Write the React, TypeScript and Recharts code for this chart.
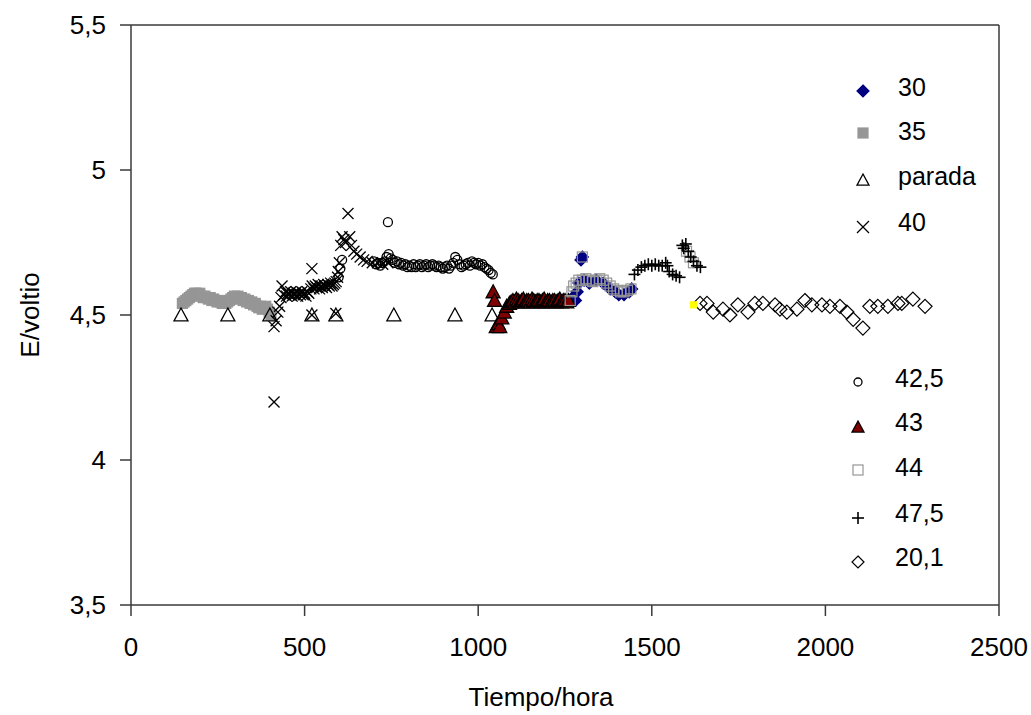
import React from "react";
import { ScatterChart, Scatter, XAxis, YAxis, ReferenceLine } from "recharts";

type P = [number, number];

// Tiempo/hora vs E/voltio, one list per series
const s30: P[] = [
  [1272, 4.56], [1280, 4.55], [1285, 4.58], [1290, 4.61], [1296, 4.69], [1300, 4.7],
  [1305, 4.62], [1320, 4.61], [1340, 4.62], [1360, 4.61], [1380, 4.59], [1395, 4.58],
  [1405, 4.57], [1420, 4.57], [1435, 4.58], [1442, 4.59],
];
const s35: P[] = [
  [148, 4.54], [153, 4.545], [158, 4.55], [163, 4.555], [168, 4.56], [173, 4.565], [178, 4.57],
  [183, 4.575], [188, 4.575], [193, 4.57], [198, 4.575], [203, 4.565], [208, 4.56], [213, 4.565],
  [218, 4.56], [223, 4.555], [228, 4.56], [233, 4.55], [238, 4.555], [243, 4.55], [248, 4.545],
  [253, 4.55], [258, 4.545], [263, 4.54], [268, 4.545], [273, 4.54], [278, 4.545], [283, 4.55],
  [288, 4.555], [293, 4.56], [298, 4.565], [303, 4.56], [308, 4.565], [313, 4.555], [318, 4.56],
  [323, 4.55], [328, 4.555], [333, 4.545], [338, 4.55], [343, 4.54], [348, 4.545], [353, 4.535],
  [358, 4.54], [363, 4.53], [368, 4.525], [373, 4.53], [378, 4.52], [383, 4.525], [388, 4.53],
  [393, 4.52], [398, 4.51], [403, 4.5],
];
const sParada: P[] = [
  [144, 4.5], [279, 4.5], [400, 4.5], [521, 4.5], [590, 4.5], [757, 4.5], [933, 4.5], [1040, 4.5],
];
const s40: P[] = [
  [412, 4.2], [412, 4.46], [418, 4.48], [423, 4.51], [428, 4.53], [432, 4.56], [435, 4.6],
  [440, 4.57], [445, 4.58], [448, 4.565], [452, 4.575], [456, 4.57], [460, 4.58], [464, 4.565],
  [468, 4.575], [472, 4.57], [476, 4.58], [480, 4.565], [484, 4.575], [488, 4.57], [492, 4.58],
  [496, 4.57], [500, 4.575], [504, 4.565], [508, 4.58], [512, 4.575], [518, 4.59], [521, 4.66],
  [521, 4.5], [522, 4.6], [527, 4.59], [531, 4.6], [535, 4.595], [539, 4.605], [543, 4.59],
  [547, 4.6], [551, 4.595], [555, 4.605], [559, 4.6], [563, 4.595], [567, 4.605], [571, 4.6],
  [575, 4.61], [579, 4.6], [583, 4.605], [587, 4.61], [590, 4.505], [591, 4.615], [595, 4.63],
  [597, 4.65], [600, 4.68], [604, 4.74], [608, 4.77], [613, 4.76], [618, 4.75], [625, 4.85],
  [630, 4.77], [635, 4.74], [642, 4.72], [650, 4.71], [660, 4.7], [670, 4.69], [680, 4.685],
  [695, 4.68], [710, 4.68], [725, 4.675], [740, 4.68],
];
const s42_5: P[] = [
  [598, 4.63], [603, 4.66], [608, 4.69], [740, 4.82],
  [700, 4.685], [706, 4.675], [712, 4.68], [718, 4.67], [724, 4.68], [730, 4.685], [736, 4.7],
  [742, 4.71], [748, 4.695], [754, 4.69], [760, 4.68], [766, 4.685], [772, 4.675], [778, 4.68],
  [784, 4.67], [790, 4.675], [796, 4.665], [802, 4.67], [808, 4.665], [814, 4.675], [820, 4.665],
  [826, 4.67], [832, 4.675], [838, 4.665], [844, 4.67], [850, 4.675], [856, 4.665], [862, 4.67],
  [868, 4.675], [874, 4.67], [880, 4.665], [886, 4.67], [892, 4.665], [898, 4.66], [904, 4.665],
  [910, 4.67], [916, 4.66], [922, 4.67], [928, 4.68], [934, 4.7], [940, 4.69], [946, 4.675],
  [952, 4.665], [958, 4.67], [964, 4.675], [970, 4.68], [976, 4.67], [982, 4.685], [988, 4.68],
  [994, 4.675], [1000, 4.68], [1006, 4.67], [1012, 4.675], [1018, 4.665], [1024, 4.66],
  [1030, 4.655], [1036, 4.645], [1042, 4.64],
];
const s43: P[] = [
  [1043, 4.58], [1047, 4.55], [1052, 4.46], [1058, 4.47], [1062, 4.46], [1068, 4.49],
  [1075, 4.51], [1082, 4.53], [1090, 4.54], [1095, 4.545], [1100, 4.55], [1105, 4.545],
  [1110, 4.555], [1115, 4.55], [1120, 4.545], [1125, 4.55], [1130, 4.555], [1135, 4.545],
  [1140, 4.55], [1145, 4.55], [1150, 4.545], [1155, 4.555], [1160, 4.55], [1165, 4.545],
  [1170, 4.55], [1175, 4.55], [1180, 4.545], [1185, 4.55], [1190, 4.555], [1195, 4.545],
  [1200, 4.55], [1205, 4.55], [1210, 4.545], [1215, 4.55], [1220, 4.55], [1225, 4.545],
  [1230, 4.55], [1235, 4.555], [1240, 4.545], [1245, 4.55], [1250, 4.55], [1255, 4.545],
  [1260, 4.55],
];
const s44: P[] = [
  [1265, 4.55], [1270, 4.58], [1275, 4.6], [1282, 4.61], [1290, 4.62], [1300, 4.62],
  [1310, 4.625], [1320, 4.62], [1330, 4.615], [1340, 4.62], [1350, 4.625], [1360, 4.62],
  [1370, 4.61], [1380, 4.6], [1390, 4.59], [1400, 4.585], [1410, 4.58], [1420, 4.58],
  [1430, 4.585], [1440, 4.59], [1300, 4.7], [1600, 4.72], [1610, 4.7], [1620, 4.68],
];
const s47_5: P[] = [
  [1450, 4.64], [1460, 4.655], [1470, 4.665], [1480, 4.67], [1490, 4.675], [1500, 4.67],
  [1510, 4.675], [1520, 4.67], [1530, 4.67], [1540, 4.68], [1545, 4.67], [1550, 4.65],
  [1560, 4.64], [1570, 4.635], [1580, 4.63], [1588, 4.74], [1592, 4.73], [1598, 4.745],
  [1605, 4.72], [1612, 4.7], [1620, 4.685], [1630, 4.67], [1640, 4.665],
];
const s20_1: P[] = [
  [1639, 4.54], [1659, 4.54], [1677, 4.51], [1705, 4.52], [1725, 4.5], [1748, 4.535],
  [1777, 4.51], [1797, 4.54], [1820, 4.54], [1855, 4.535], [1869, 4.52], [1889, 4.51],
  [1918, 4.52], [1941, 4.55], [1961, 4.535], [1990, 4.535], [2013, 4.53], [2042, 4.53],
  [2062, 4.51], [2080, 4.485], [2108, 4.455], [2128, 4.53], [2151, 4.53], [2180, 4.53],
  [2209, 4.54], [2220, 4.54], [2252, 4.555], [2287, 4.53],
];
const sYellow: P[] = [[1620, 4.535]];

const xTicks = [0, 500, 1000, 1500, 2000, 2500];
const yTicks = [3.5, 4, 4.5, 5, 5.5];

type Kind = "diamond" | "square" | "triangle" | "x" | "circle" | "plus";

function Marker({ kind, cx, cy, r, fill, stroke }: { kind: Kind; cx: number; cy: number; r: number; fill: string; stroke: string }) {
  if (cx == null || cy == null) return null;
  switch (kind) {
    case "diamond":
      return <polygon points={`${cx},${cy - r} ${cx + r},${cy} ${cx},${cy + r} ${cx - r},${cy}`} fill={fill} stroke={stroke} strokeWidth={1.2} />;
    case "square":
      return <rect x={cx - r} y={cy - r} width={2 * r} height={2 * r} fill={fill} stroke={stroke} strokeWidth={1.2} />;
    case "triangle":
      return <polygon points={`${cx},${cy - r} ${cx + r},${cy + r * 0.85} ${cx - r},${cy + r * 0.85}`} fill={fill} stroke={stroke} strokeWidth={1.3} />;
    case "x":
      return (
        <g stroke={stroke} strokeWidth={1.3}>
          <line x1={cx - r} y1={cy - r} x2={cx + r} y2={cy + r} />
          <line x1={cx - r} y1={cy + r} x2={cx + r} y2={cy - r} />
        </g>
      );
    case "plus":
      return (
        <g stroke={stroke} strokeWidth={1.6}>
          <line x1={cx - r} y1={cy} x2={cx + r} y2={cy} />
          <line x1={cx} y1={cy - r} x2={cx} y2={cy + r} />
        </g>
      );
    default:
      return <circle cx={cx} cy={cy} r={r} fill={fill} stroke={stroke} strokeWidth={1.3} />;
  }
}

const series = [
  { name: "30", data: s30, kind: "diamond" as Kind, r: 6, fill: "#000080", stroke: "#000080" },
  { name: "35", data: s35, kind: "square" as Kind, r: 5, fill: "#969696", stroke: "#969696" },
  { name: "parada", data: sParada, kind: "triangle" as Kind, r: 7, fill: "none", stroke: "#000" },
  { name: "40", data: s40, kind: "x" as Kind, r: 5.5, fill: "none", stroke: "#000" },
  { name: "42,5", data: s42_5, kind: "circle" as Kind, r: 4.5, fill: "none", stroke: "#000" },
  { name: "43", data: s43, kind: "triangle" as Kind, r: 7, fill: "#800000", stroke: "#000" },
  { name: "44", data: s44, kind: "square" as Kind, r: 5, fill: "none", stroke: "#969696" },
  { name: "47,5", data: s47_5, kind: "plus" as Kind, r: 6, fill: "none", stroke: "#000" },
  { name: "20,1", data: s20_1, kind: "diamond" as Kind, r: 7, fill: "none", stroke: "#000" },
];

const legendRows = [
  { i: 0, sx: 863, sy: 91, tx: 898, ty: 87 },
  { i: 1, sx: 863, sy: 133, tx: 898, ty: 131 },
  { i: 2, sx: 863, sy: 180, tx: 898, ty: 176 },
  { i: 3, sx: 863, sy: 227, tx: 898, ty: 222 },
  { i: 4, sx: 858, sy: 382, tx: 895, ty: 378 },
  { i: 5, sx: 858, sy: 427, tx: 895, ty: 422 },
  { i: 6, sx: 858, sy: 470, tx: 895, ty: 467 },
  { i: 7, sx: 858, sy: 518, tx: 895, ty: 513 },
  { i: 8, sx: 858, sy: 562, tx: 895, ty: 557 },
];

const toPts = (a: P[]) => a.map(([x, y]) => ({ x, y }));
const fmtY = (v: number) => String(v).replace(".", ",");
const FONT = "'Liberation Sans', Arial, sans-serif";
const AXIS = "#3a3a3a";

export default function App() {
  return (
    <div style={{ position: "absolute", left: 0, top: 0, width: 1031, height: 715, background: "#fff" }}>
      <ScatterChart width={1031} height={715} margin={{ top: 25, right: 32, left: 31, bottom: 30 }}>
        <XAxis
          type="number"
          dataKey="x"
          domain={[0, 2500]}
          ticks={xTicks}
          height={80}
          tickSize={11}
          tickMargin={22}
          stroke={AXIS}
          strokeWidth={1.5}
          tick={{ fill: "#000", fontSize: 26, fontFamily: FONT }}
          allowDataOverflow
        />
        <YAxis
          type="number"
          dataKey="y"
          domain={[3.5, 5.5]}
          ticks={yTicks}
          width={100}
          tickSize={11}
          tickMargin={14}
          tickFormatter={fmtY}
          stroke={AXIS}
          strokeWidth={1.5}
          tick={{ fill: "#000", fontSize: 26, fontFamily: FONT }}
          allowDataOverflow
        />
        <ReferenceLine y={5.5} stroke={AXIS} strokeWidth={1.5} />
        <ReferenceLine x={2500} stroke={AXIS} strokeWidth={1.5} />
        {series.map((s) => (
          <Scatter
            key={s.name}
            name={s.name}
            data={toPts(s.data)}
            isAnimationActive={false}
            shape={(p: any) => <Marker kind={s.kind} cx={p.cx} cy={p.cy} r={s.r} fill={s.fill} stroke={s.stroke} />}
          />
        ))}
        <Scatter
          name="extra"
          data={toPts(sYellow)}
          isAnimationActive={false}
          shape={(p: any) => <Marker kind="square" cx={p.cx} cy={p.cy} r={3} fill="#ffff00" stroke="#ffff00" />}
        />
      </ScatterChart>
      <svg width={1031} height={715} style={{ position: "absolute", left: 0, top: 0, pointerEvents: "none" }}>
        {legendRows.map((row) => {
          const s = series[row.i];
          const r = s.kind === "circle" ? 4 : s.kind === "square" ? 5 : 6;
          return (
            <g key={s.name}>
              <Marker kind={s.kind} cx={row.sx} cy={row.sy} r={r} fill={s.fill} stroke={s.stroke} />
              <text x={row.tx} y={row.ty} dy="0.355em" fontSize={25} fontFamily={FONT} fill="#000">
                {s.name}
              </text>
            </g>
          );
        })}
        <text x={541} y={706} textAnchor="middle" fontSize={26} fontFamily={FONT} fill="#000">
          Tiempo/hora
        </text>
        <text
          x={30}
          y={315}
          dy="0.355em"
          textAnchor="middle"
          transform="rotate(-90 30 315)"
          fontSize={26}
          fontFamily={FONT}
          fill="#000"
        >
          E/voltio
        </text>
      </svg>
    </div>
  );
}
